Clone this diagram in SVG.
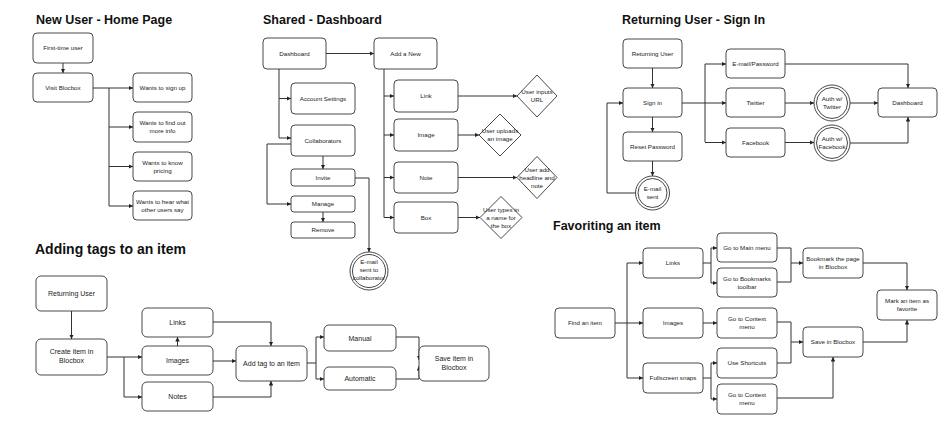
<svg xmlns="http://www.w3.org/2000/svg" width="950" height="434" viewBox="0 0 950 434">
<style>
.bg{fill:#fff}
.n{fill:#fff;stroke:#333;stroke-width:0.9}
.t{font-family:"Liberation Sans",Arial,sans-serif;font-size:6.2px;fill:#222;text-anchor:middle}
.t7{font-size:7px}
.h{font-family:"Liberation Sans",Arial,sans-serif;font-weight:bold;font-size:12.5px;fill:#111}
.c path{fill:none;stroke:#333;stroke-width:1}
.a{marker-end:url(#ah)}
</style>
<defs>
<marker id="ah" viewBox="0 0 10 10" refX="10" refY="5" markerWidth="4.5" markerHeight="4.5" markerUnits="userSpaceOnUse" orient="auto">
<path d="M0,0 L10,5 L0,10 z" fill="#222"/>
</marker>
</defs>
<rect class="bg" width="950" height="434"/>

<text class="h" x="36" y="24">New User - Home Page</text>
<text class="h" x="263" y="24">Shared - Dashboard</text>
<text class="h" x="622" y="24">Returning User - Sign In</text>
<text class="h" x="35" y="254" style="font-size:14px">Adding tags to an item</text>
<text class="h" x="553" y="230">Favoriting an item</text>

<g class="c" id="connectors">
<!-- New user -->
<path class="a" d="M63 63V73"/>
<path class="a" d="M93 88H133"/>
<path d="M109 88V206"/>
<path class="a" d="M109 127H133"/>
<path class="a" d="M109 166.5H133"/>
<path class="a" d="M109 206H133"/>
<!-- Shared -->
<path class="a" d="M326 53.5H374"/>
<path d="M279 69V138"/>
<path class="a" d="M279 98.5H291"/>
<path class="a" d="M279 138H291"/>
<path class="a" d="M323 156V169"/>
<path class="a" d="M291 144H267V204H291"/>
<path class="a" d="M323 212V222"/>
<path class="a" d="M355 178H369V252"/>
<path d="M384 69V217.5"/>
<path class="a" d="M384 96H394"/>
<path class="a" d="M384 135H394"/>
<path class="a" d="M384 177.5H394"/>
<path class="a" d="M384 217.5H394"/>
<path class="a" d="M458 96H517"/>
<path class="a" d="M458 135H479"/>
<path class="a" d="M458 177.5H517"/>
<path class="a" d="M458 217.5H480"/>
<!-- Returning -->
<path class="a" d="M652.5 68V88"/>
<path class="a" d="M652.5 117V132"/>
<path class="a" d="M652.5 161V176"/>
<path class="a" d="M635 193H607V103H623"/>
<path class="a" d="M682 103H726"/>
<path d="M705 64V142"/>
<path class="a" d="M705 64H726"/>
<path class="a" d="M705 142.5H726"/>
<path class="a" d="M785 103H814"/>
<path class="a" d="M850 103H878"/>
<path class="a" d="M785 64H908V88"/>
<path class="a" d="M785 142.5H814"/>
<path class="a" d="M850 143H908V117"/>
<!-- Adding tags -->
<path class="a" d="M71.5 311V339"/>
<path class="a" d="M107 357H142"/>
<path class="a" d="M124 357V397H142"/>
<path class="a" d="M177.5 346V337"/>
<path class="a" d="M213 361H236"/>
<path class="a" d="M213 322H271V346"/>
<path class="a" d="M213 397H271V381"/>
<path d="M307 363H316"/>
<path d="M316 337V379"/>
<path class="a" d="M316 337H324"/>
<path class="a" d="M316 379H324"/>
<path class="a" d="M396 337H419V360"/>
<path class="a" d="M396 379H419V366"/>
<!-- Favoriting -->
<path class="a" d="M615 323H643"/>
<path d="M627 263V378"/>
<path class="a" d="M627 263H643"/>
<path class="a" d="M627 378H643"/>
<path d="M703 263H711"/>
<path d="M711 248V283"/>
<path class="a" d="M711 248H717"/>
<path class="a" d="M711 283H717"/>
<path class="a" d="M703 323H717"/>
<path d="M703 378H711"/>
<path d="M711 363V399"/>
<path class="a" d="M711 363H717"/>
<path class="a" d="M711 399H717"/>
<path d="M777 248H791V282H777"/>
<path class="a" d="M791 263H803"/>
<path d="M777 322H791V363H777"/>
<path class="a" d="M791 342H803"/>
<path class="a" d="M777 398H833V357"/>
<path class="a" d="M863 263H907V290"/>
<path class="a" d="M863 342H907V320"/>
</g>

<!-- New User nodes -->
<g id="nu-first"><rect class="n" x="33" y="33" width="60" height="30" rx="4"/><text class="t" x="63" y="50">First-time user</text></g>
<g id="nu-visit"><rect class="n" x="33" y="73" width="60" height="29" rx="4"/><text class="t" x="63" y="90">Visit Blocbox</text></g>
<g id="nu-signup"><rect class="n" x="133" y="73" width="59" height="29" rx="4"/><text class="t" x="162.5" y="90">Wants to sign up</text></g>
<g id="nu-info"><rect class="n" x="133" y="112" width="59" height="30" rx="4"/><text class="t" x="162.5" y="125">Wants to find out</text><text class="t" x="162.5" y="133">more info</text></g>
<g id="nu-pricing"><rect class="n" x="133" y="152" width="59" height="29" rx="4"/><text class="t" x="162.5" y="164.5">Wants to know</text><text class="t" x="162.5" y="172.5">pricing</text></g>
<g id="nu-hear"><rect class="n" x="133" y="191" width="59" height="29" rx="4"/><text class="t" x="162.5" y="203.5">Wants to hear what</text><text class="t" x="162.5" y="211.5">other users say</text></g>

<!-- Shared nodes -->
<g id="sd-dashboard"><rect class="n" x="263" y="38" width="63" height="31" rx="4"/><text class="t" x="294.5" y="55.5">Dashboard</text></g>
<g id="sd-addnew"><rect class="n" x="374" y="38" width="63" height="31" rx="4"/><text class="t" x="405.5" y="55.5">Add a New</text></g>
<g id="sd-account"><rect class="n" x="291" y="83" width="64" height="31" rx="4"/><text class="t" x="323" y="100.5">Account Settings</text></g>
<g id="sd-collab"><rect class="n" x="291" y="125" width="64" height="31" rx="4"/><text class="t" x="323" y="142.5">Collaborators</text></g>
<g id="sd-invite"><rect class="n" x="291" y="169" width="64" height="17" rx="3"/><text class="t" x="323" y="179.5">Invite</text></g>
<g id="sd-manage"><rect class="n" x="291" y="196" width="64" height="16" rx="3"/><text class="t" x="323" y="206">Manage</text></g>
<g id="sd-remove"><rect class="n" x="291" y="222" width="64" height="16" rx="3"/><text class="t" x="323" y="232">Remove</text></g>
<g id="sd-email"><circle class="n" cx="369" cy="271" r="19"/><circle class="n" cx="369" cy="271" r="16.5"/><text class="t" x="369" y="264">E-mail</text><text class="t" x="369" y="272">sent to</text><text class="t" x="369" y="280">collaborator</text></g>
<g id="sd-link"><rect class="n" x="394" y="80" width="64" height="32" rx="4"/><text class="t" x="426" y="98">Link</text></g>
<g id="sd-image"><rect class="n" x="394" y="119" width="64" height="32" rx="4"/><text class="t" x="426" y="137">Image</text></g>
<g id="sd-note"><rect class="n" x="394" y="162" width="64" height="31" rx="4"/><text class="t" x="426" y="179.5">Note</text></g>
<g id="sd-box"><rect class="n" x="394" y="202" width="64" height="31" rx="4"/><text class="t" x="426" y="219.5">Box</text></g>
<g id="sd-url"><path class="n" d="M537 75L557 96L537 117L517 96Z"/><text class="t" x="537" y="94">User inputs</text><text class="t" x="537" y="102">URL</text></g>
<g id="sd-upload"><path class="n" d="M500 114L521 135L500 156L479 135Z"/><text class="t" x="500" y="133">User uploads</text><text class="t" x="500" y="141">an image</text></g>
<g id="sd-headline"><path class="n" d="M537 156.5L557 177.5L537 198.5L517 177.5Z"/><text class="t" x="537" y="171.5">User add</text><text class="t" x="537" y="179.5">headline and</text><text class="t" x="537" y="187.5">note</text></g>
<g id="sd-boxname"><path class="n" d="M501 196.5L522 217.5L501 238.5L480 217.5Z"/><text class="t" x="501" y="211.5">User types in</text><text class="t" x="501" y="219.5">a name for</text><text class="t" x="501" y="227.5">the box</text></g>

<!-- Returning nodes -->
<g id="ru-user"><rect class="n" x="623" y="39" width="59" height="29" rx="4"/><text class="t" x="652.5" y="55.5">Returning User</text></g>
<g id="ru-signin"><rect class="n" x="623" y="88" width="59" height="29" rx="4"/><text class="t" x="652.5" y="104.5">Sign in</text></g>
<g id="ru-reset"><rect class="n" x="623" y="132" width="59" height="29" rx="4"/><text class="t" x="652.5" y="148.5">Reset Password</text></g>
<g id="ru-emailsent"><circle class="n" cx="652.5" cy="193" r="17"/><circle class="n" cx="652.5" cy="193" r="14.5"/><text class="t" x="652.5" y="190.5">E-mail</text><text class="t" x="652.5" y="198.5">sent</text></g>
<g id="ru-emailpw"><rect class="n" x="726" y="49" width="59" height="29" rx="4"/><text class="t" x="755.5" y="65.5">E-mail/Password</text></g>
<g id="ru-twitter"><rect class="n" x="726" y="88" width="59" height="29" rx="4"/><text class="t" x="755.5" y="104.5">Twitter</text></g>
<g id="ru-facebook"><rect class="n" x="726" y="128" width="59" height="29" rx="4"/><text class="t" x="755.5" y="144.5">Facebook</text></g>
<g id="ru-authtw"><circle class="n" cx="832" cy="103" r="18"/><circle class="n" cx="832" cy="103" r="15.5"/><text class="t" x="832" y="100.5">Auth w/</text><text class="t" x="832" y="108.5">Twitter</text></g>
<g id="ru-authfb"><circle class="n" cx="832" cy="143" r="18"/><circle class="n" cx="832" cy="143" r="15.5"/><text class="t" x="832" y="140.5">Auth w/</text><text class="t" x="832" y="148.5">Facebook</text></g>
<g id="ru-dashboard"><rect class="n" x="878" y="88" width="59" height="29" rx="4"/><text class="t" x="907.5" y="104.5">Dashboard</text></g>

<!-- Adding tags nodes -->
<g id="at-user"><rect class="n" x="36" y="276" width="71" height="35" rx="5"/><text class="t t7" x="71.5" y="296">Returning User</text></g>
<g id="at-create"><rect class="n" x="36" y="339" width="71" height="36" rx="5"/><text class="t t7" x="71.5" y="354">Create item in</text><text class="t t7" x="71.5" y="363">Blocbox</text></g>
<g id="at-links"><rect class="n" x="142" y="308" width="71" height="29" rx="5"/><text class="t t7" x="177.5" y="325">Links</text></g>
<g id="at-images"><rect class="n" x="142" y="346" width="71" height="29" rx="5"/><text class="t t7" x="177.5" y="363">Images</text></g>
<g id="at-notes"><rect class="n" x="142" y="382" width="71" height="29" rx="5"/><text class="t t7" x="177.5" y="399">Notes</text></g>
<g id="at-addtag"><rect class="n" x="236" y="346" width="71" height="35" rx="5"/><text class="t t7" x="271.5" y="366">Add tag to an item</text></g>
<g id="at-manual"><rect class="n" x="324" y="325" width="72" height="26" rx="5"/><text class="t t7" x="360" y="340.5">Manual</text></g>
<g id="at-auto"><rect class="n" x="324" y="367" width="72" height="23" rx="5"/><text class="t t7" x="360" y="381">Automatic</text></g>
<g id="at-save"><rect class="n" x="419" y="346" width="70" height="35" rx="5"/><text class="t t7" x="454" y="361">Save item in</text><text class="t t7" x="454" y="370">Blocbox</text></g>

<!-- Favoriting nodes -->
<g id="fa-find"><rect class="n" x="555" y="308" width="60" height="30" rx="4"/><text class="t" x="585" y="325">Find an item</text></g>
<g id="fa-links"><rect class="n" x="643" y="248" width="60" height="30" rx="4"/><text class="t" x="673" y="265">Links</text></g>
<g id="fa-images"><rect class="n" x="643" y="308" width="60" height="30" rx="4"/><text class="t" x="673" y="325">Images</text></g>
<g id="fa-full"><rect class="n" x="643" y="363" width="60" height="30" rx="4"/><text class="t" x="673" y="380">Fullscreen snaps</text></g>
<g id="fa-main"><rect class="n" x="717" y="233" width="60" height="29" rx="4"/><text class="t" x="747" y="249.5">Go to Main menu</text></g>
<g id="fa-bm"><rect class="n" x="717" y="268" width="60" height="29" rx="4"/><text class="t" x="747" y="280.5">Go to Bookmarks</text><text class="t" x="747" y="288.5">toolbar</text></g>
<g id="fa-ctx1"><rect class="n" x="717" y="308" width="60" height="30" rx="4"/><text class="t" x="747" y="321">Go to Context</text><text class="t" x="747" y="329">menu</text></g>
<g id="fa-short"><rect class="n" x="717" y="348" width="60" height="30" rx="4"/><text class="t" x="747" y="365">Use Shortcuts</text></g>
<g id="fa-ctx2"><rect class="n" x="717" y="384" width="60" height="30" rx="4"/><text class="t" x="747" y="397">Go to Context</text><text class="t" x="747" y="405">menu</text></g>
<g id="fa-bookmark"><rect class="n" x="803" y="248" width="60" height="30" rx="4"/><text class="t" x="833" y="261">Bookmark the page</text><text class="t" x="833" y="269">in Blocbox</text></g>
<g id="fa-save"><rect class="n" x="803" y="327" width="60" height="30" rx="4"/><text class="t" x="833" y="344">Save in Blocbox</text></g>
<g id="fa-mark"><rect class="n" x="877" y="290" width="60" height="30" rx="4"/><text class="t" x="907" y="303">Mark an item as</text><text class="t" x="907" y="311">favorite</text></g>
</svg>
